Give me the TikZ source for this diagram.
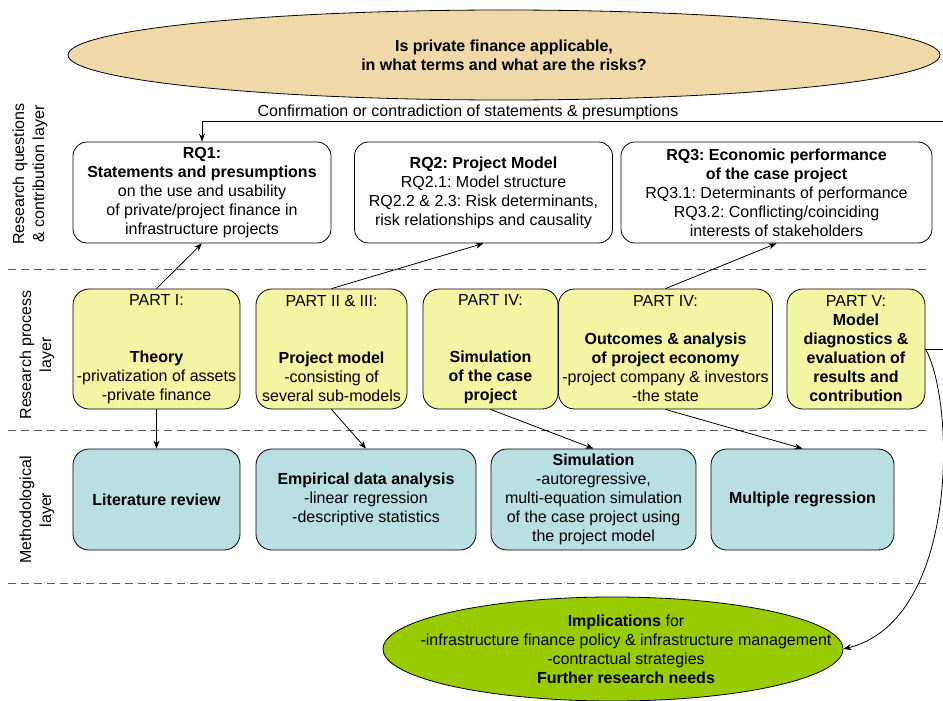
\documentclass[tikz,border=0pt]{standalone}
\usepackage{fontspec}
\setmainfont{Liberation Sans}
\usetikzlibrary{arrows.meta,shapes.geometric}

\definecolor{questiontan}{RGB}{239,217,169}
\definecolor{partyellow}{RGB}{240,246,162}
\definecolor{methodblue}{RGB}{186,223,226}
\definecolor{implgreen}{RGB}{153,204,0}
\definecolor{layerline}{RGB}{90,90,90}

\frenchspacing
\begin{document}
\begin{tikzpicture}[x=1pt,y=-1pt,
  every node/.style={font=\fontsize{16}{19}\selectfont, align=center, inner sep=0pt},
  rqbox/.style={draw=black, line width=0.8pt, rounded corners=14pt, fill=white},
  partbox/.style={draw=black, line width=0.8pt, rounded corners=16pt, fill=partyellow, minimum height=120},
  methodbox/.style={draw=black, line width=0.8pt, rounded corners=16pt, fill=methodblue, minimum height=101},
  layersep/.style={draw=layerline, line width=0.8pt, dash pattern=on 8pt off 5pt},
  layerlabel/.style={rotate=90, font=\fontsize{16}{20}\selectfont},
  link/.style={draw=black, line width=0.8pt},
  arr/.style={link, -{Stealth[length=8pt,width=6pt]}}
]
\useasboundingbox (0,0) rectangle (943,701);

% layer separators
\draw[layersep] (8,269) -- (930,269);
\draw[layersep] (8,430) -- (930,430);
\draw[layersep] (8,583) -- (930,583);

% layer labels
\node[layerlabel] (lq) at (30,174) {Research questions\\\& contribution layer};
\node[layerlabel] (lp) at (37,355) {Research process\\layer};
\node[layerlabel] (lm) at (37,510) {Methodological\\layer};

% central question
\node[ellipse, draw=black, line width=0.8pt, fill=questiontan, minimum width=872, minimum height=90] (q) at (504,55) {};
\node (qtext) at (q.center) {\textbf{Is private finance applicable,}\\\textbf{in what terms and what are the risks?}};

% research questions
\node[rqbox, minimum width=258, minimum height=101] (rq1) at (202,192.5)
  {\textbf{RQ1:}\\\textbf{Statements and presumptions}\\on the use and usability\\of private/project finance in\\infrastructure projects};
\node[rqbox, minimum width=258, minimum height=101] (rq2) at (483.5,192.5)
  {\textbf{RQ2: Project Model}\\RQ2.1: Model structure\\RQ2.2 \& 2.3: Risk determinants,\\risk relationships and causality};
\node[rqbox, minimum width=311, minimum height=101] (rq3) at (776.5,192.5)
  {\textbf{RQ3: Economic performance}\\\textbf{of the case project}\\RQ3.1: Determinants of performance\\RQ3.2: Conflicting/coinciding\\interests of stakeholders};

% research process
\node[partbox, minimum width=167] (p1) at (156.5,349)
  {PART I:\\[38pt]\textbf{Theory}\\-privatization of assets\\-private finance};
\node[partbox, minimum width=151] (p2) at (331.5,349)
  {PART II \& III:\\[38pt]\textbf{Project model}\\-consisting of\\several sub-models};
\node[partbox, minimum width=135] (p4a) at (490.5,349)
  {PART IV:\\[38pt]\textbf{Simulation}\\\textbf{of the case}\\\textbf{project}};
\node[partbox, minimum width=214] (p4b) at (665.5,349)
  {PART IV:\\[19pt]\textbf{Outcomes \& analysis}\\\textbf{of project economy}\\-project company \& investors\\-the state};
\node[partbox, minimum width=138] (p5) at (856,349)
  {PART V:\\\textbf{Model}\\\textbf{diagnostics \&}\\\textbf{evaluation of}\\\textbf{results and}\\\textbf{contribution}};

% methods
\node[methodbox, minimum width=167] (lit) at (156.5,499.5) {\textbf{Literature review}};
\node[methodbox, minimum width=220] (emp) at (366,499.5)
  {\textbf{Empirical data analysis}\\-linear regression\\-descriptive statistics};
\node[methodbox, minimum width=205] (sim) at (593.5,499.5)
  {\textbf{Simulation}\\-autoregressive,\\multi-equation simulation\\of the case project using\\the project model};
\node[methodbox, minimum width=183] (mr) at (802.5,499.5) {\textbf{Multiple regression}};

% implications
\node[ellipse, draw=black, line width=0.8pt, fill=implgreen, minimum width=460, minimum height=104] (impl) at (613,649) {};
\node (impltext) at ([xshift=13pt]impl.center)
  {\textbf{Implications} for\\-infrastructure finance policy \& infrastructure management\\-contractual strategies\\\textbf{Further research needs}};

% feedback to the statements
\coordinate (cfr) at (943,121);
\node (cftext) at (468,112) {Confirmation or contradiction of statements \& presumptions};
\draw[arr] (cfr) -| (rq1.north);

% process to questions
\draw[arr] (p1.north) -- (rq1.south);
\draw[arr] (p2.north) -- (rq2.south);
\draw[arr] (p4b.north) -- (rq3.south);

% process to methods
\draw[arr] (p1.south) -- (lit.north);
\draw[arr] (p2.south) -- (emp.north);
\draw[arr] (p4a.south) -- (sim.north);
\draw[arr] (p4b.south) -- (mr.north);

% evaluation to implications
\coordinate (p5r) at (943,349);
\draw[link] (p5.east) -- (p5r);
\draw[arr] (p5.east) .. controls (955,400) and (960,620) .. (impl.east);
\end{tikzpicture}
\end{document}
